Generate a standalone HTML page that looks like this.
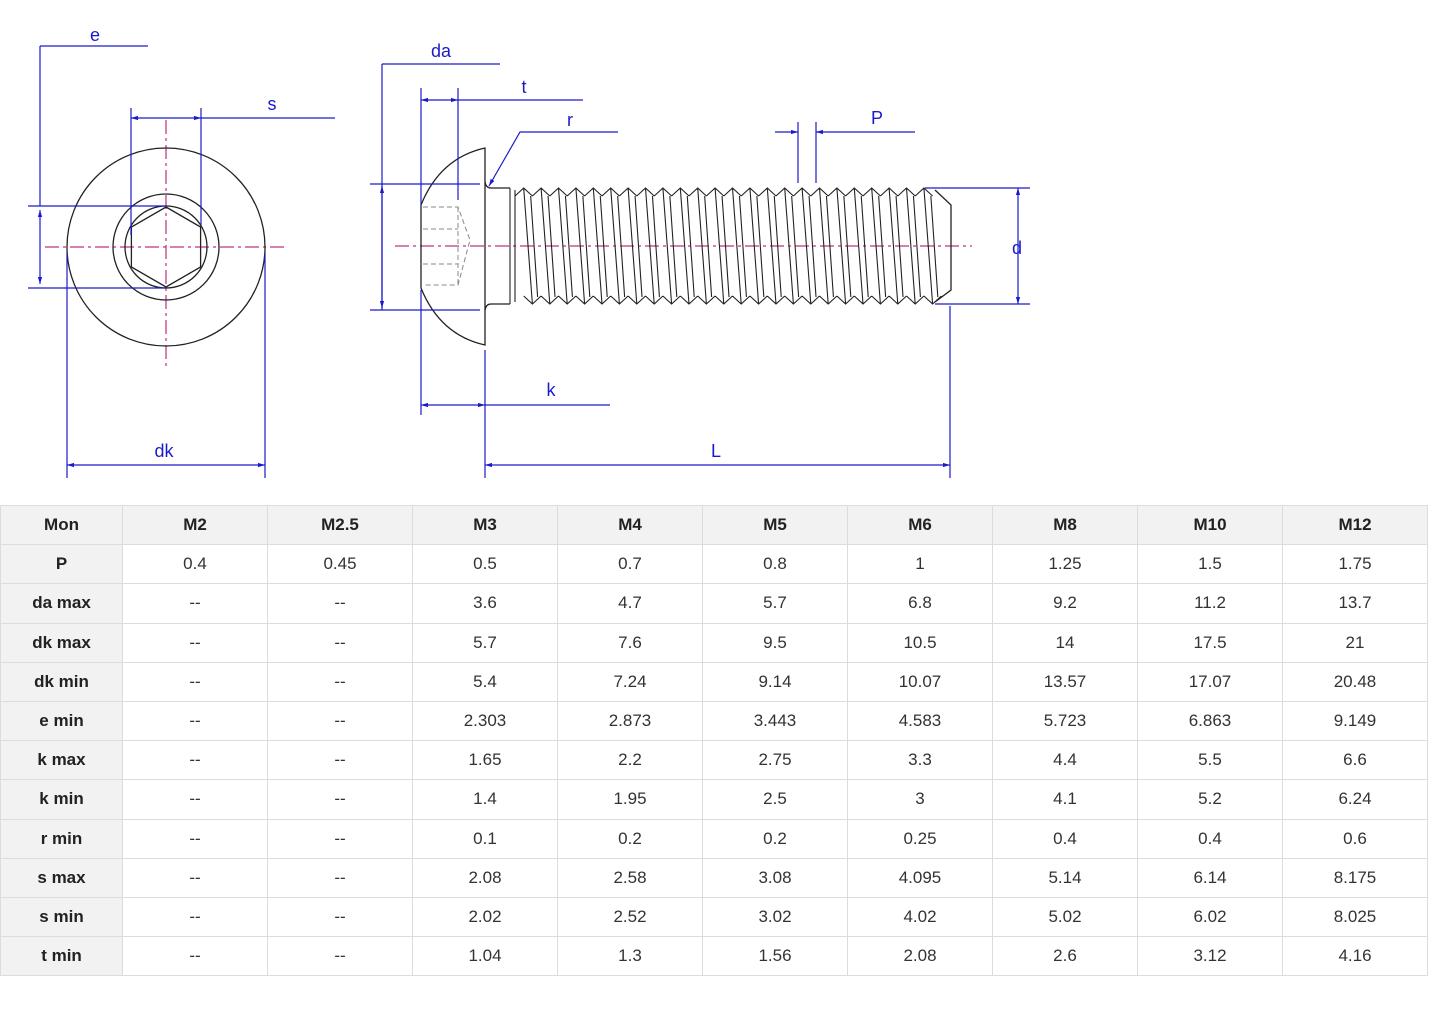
<!DOCTYPE html>
<html><head><meta charset="utf-8"><style>
body{margin:0;background:#fff;width:1445px;height:1015px;overflow:hidden;font-family:"Liberation Sans",sans-serif}
svg{position:absolute;left:0;top:0}
table{position:absolute;left:0;top:505px;border-collapse:collapse;font-family:"Liberation Sans",sans-serif;font-size:17px;color:#333}
td{width:144px;height:38.2px;border:1px solid #dcdcdc;text-align:center;padding:0}
td:first-child{width:121px;background:#f2f2f2;font-weight:bold;color:#222}
tr:first-child td{background:#f2f2f2;font-weight:bold;color:#222}
</style></head><body>
<svg width="1445" height="500" viewBox="0 0 1445 500">
<defs>
<marker id="a" viewBox="0 0 10 10" refX="10" refY="5" markerWidth="9" markerHeight="7" orient="auto-start-reverse" markerUnits="userSpaceOnUse"><path d="M0,2 L10,5 L0,8z" fill="#1a1acc"/></marker>
</defs>
<g stroke="#c03080" stroke-width="1.2" stroke-dasharray="14,4,3,4" fill="none">
<line x1="45" y1="247" x2="287" y2="247"/><line x1="166" y1="120" x2="166" y2="370"/>
<line x1="395" y1="246" x2="972" y2="246"/>
</g>
<g stroke="#222" stroke-width="1.3" fill="none">
<circle cx="166" cy="247" r="99"/><circle cx="166" cy="247" r="53"/><circle cx="166" cy="247" r="41"/>
<polygon points="166,207 200.6,227 200.6,267 166,287 131.4,267 131.4,227"/>
<path d="M421,205 Q440,158 485,148 L485,345 Q440,335 421,288 Z"/>
<path d="M485,182 Q486,188 491,188 L510,188 M485,310 Q486,304 491,304 L510,304"/>
<path d="M935,190 L951,205 L951,290 L935,302"/>
<g id="thr"></g>
</g>
<g stroke="#888" stroke-width="1" stroke-dasharray="5,3" fill="none">
<path d="M423,207 H458 L470,240 L458,285 H423 M423,229 H458 M423,264 H458 M458,207 V285"/>
</g>
<g stroke="#1a1acc" stroke-width="1.2" fill="none">
<line x1="40" y1="46" x2="148" y2="46"/><line x1="40" y1="46" x2="40" y2="206"/>
<line x1="40" y1="210" x2="40" y2="284" marker-start="url(#a)" marker-end="url(#a)"/>
<line x1="28" y1="206" x2="166" y2="206"/><line x1="28" y1="288" x2="166" y2="288"/>
<line x1="131" y1="108" x2="131" y2="235"/><line x1="201" y1="108" x2="201" y2="225"/>
<line x1="131" y1="118" x2="201" y2="118" marker-start="url(#a)" marker-end="url(#a)"/>
<line x1="201" y1="118" x2="335" y2="118"/>
<line x1="67" y1="252" x2="67" y2="478"/><line x1="265" y1="252" x2="265" y2="478"/>
<line x1="67" y1="465" x2="265" y2="465" marker-start="url(#a)" marker-end="url(#a)"/>
<line x1="382" y1="64" x2="382" y2="310"/><line x1="382" y1="64" x2="500" y2="64"/>
<line x1="382" y1="186" x2="382" y2="308" marker-start="url(#a)" marker-end="url(#a)"/>
<line x1="370" y1="184" x2="480" y2="184"/><line x1="370" y1="310" x2="480" y2="310"/>
<line x1="421" y1="88" x2="421" y2="205"/><line x1="458" y1="88" x2="458" y2="200"/>
<line x1="421" y1="100" x2="458" y2="100" marker-start="url(#a)" marker-end="url(#a)"/>
<line x1="458" y1="100" x2="583" y2="100"/>
<polyline points="618,132 520,132 489,186" marker-end="url(#a)"/>
<line x1="798" y1="122" x2="798" y2="183"/><line x1="816" y1="122" x2="816" y2="183"/>
<line x1="775" y1="132" x2="798" y2="132" marker-end="url(#a)"/>
<line x1="915" y1="132" x2="816" y2="132" marker-end="url(#a)"/>
<line x1="925" y1="188" x2="1030" y2="188"/><line x1="935" y1="304" x2="1030" y2="304"/>
<line x1="1018" y1="188" x2="1018" y2="304" marker-start="url(#a)" marker-end="url(#a)"/>
<line x1="421" y1="290" x2="421" y2="415"/><line x1="485" y1="350" x2="485" y2="478"/>
<line x1="421" y1="405" x2="485" y2="405" marker-start="url(#a)" marker-end="url(#a)"/>
<line x1="485" y1="405" x2="610" y2="405"/>
<line x1="950" y1="306" x2="950" y2="478"/>
<line x1="485" y1="465" x2="950" y2="465" marker-start="url(#a)" marker-end="url(#a)"/>
</g>
<g fill="#1a1acc" font-family="Liberation Sans,sans-serif" font-size="18" text-anchor="middle">
<text x="95" y="41">e</text><text x="272" y="110">s</text><text x="164" y="457">dk</text>
<text x="441" y="57">da</text><text x="524" y="93">t</text><text x="570" y="126">r</text>
<text x="877" y="124">P</text><text x="1017" y="254">d</text><text x="551" y="396">k</text><text x="716" y="457">L</text>
</g>
</svg>
<script>
(function(){var g=document.getElementById('thr'),d='',p=17.4,x0=515;
d+='M510,188 L510,304 M515,190 L515,302 ';
for(var i=0;i<24;i++){var x=x0+i*p;
d+='M'+x+',196 L'+(x+p/2)+',188 L'+(x+p)+',196 ';
d+='M'+(x+p/2)+',296 L'+(x+p)+',304 L'+(x+p*1.5)+',296 ';
d+='M'+(x+p/2)+',188 L'+(x+p)+',304 ';
d+='M'+(x+p*0.9)+',196 L'+(x+p*1.3)+',297 ';}
var pa=document.createElementNS('http://www.w3.org/2000/svg','path');pa.setAttribute('d',d);pa.setAttribute('stroke-width','1.1');g.appendChild(pa);})();
</script>
<table>
<tr><td>Mon</td><td>M2</td><td>M2.5</td><td>M3</td><td>M4</td><td>M5</td><td>M6</td><td>M8</td><td>M10</td><td>M12</td></tr>
<tr><td>P</td><td>0.4</td><td>0.45</td><td>0.5</td><td>0.7</td><td>0.8</td><td>1</td><td>1.25</td><td>1.5</td><td>1.75</td></tr>
<tr><td>da max</td><td>--</td><td>--</td><td>3.6</td><td>4.7</td><td>5.7</td><td>6.8</td><td>9.2</td><td>11.2</td><td>13.7</td></tr>
<tr><td>dk max</td><td>--</td><td>--</td><td>5.7</td><td>7.6</td><td>9.5</td><td>10.5</td><td>14</td><td>17.5</td><td>21</td></tr>
<tr><td>dk min</td><td>--</td><td>--</td><td>5.4</td><td>7.24</td><td>9.14</td><td>10.07</td><td>13.57</td><td>17.07</td><td>20.48</td></tr>
<tr><td>e min</td><td>--</td><td>--</td><td>2.303</td><td>2.873</td><td>3.443</td><td>4.583</td><td>5.723</td><td>6.863</td><td>9.149</td></tr>
<tr><td>k max</td><td>--</td><td>--</td><td>1.65</td><td>2.2</td><td>2.75</td><td>3.3</td><td>4.4</td><td>5.5</td><td>6.6</td></tr>
<tr><td>k min</td><td>--</td><td>--</td><td>1.4</td><td>1.95</td><td>2.5</td><td>3</td><td>4.1</td><td>5.2</td><td>6.24</td></tr>
<tr><td>r min</td><td>--</td><td>--</td><td>0.1</td><td>0.2</td><td>0.2</td><td>0.25</td><td>0.4</td><td>0.4</td><td>0.6</td></tr>
<tr><td>s max</td><td>--</td><td>--</td><td>2.08</td><td>2.58</td><td>3.08</td><td>4.095</td><td>5.14</td><td>6.14</td><td>8.175</td></tr>
<tr><td>s min</td><td>--</td><td>--</td><td>2.02</td><td>2.52</td><td>3.02</td><td>4.02</td><td>5.02</td><td>6.02</td><td>8.025</td></tr>
<tr><td>t min</td><td>--</td><td>--</td><td>1.04</td><td>1.3</td><td>1.56</td><td>2.08</td><td>2.6</td><td>3.12</td><td>4.16</td></tr>
</table>
</body></html>
